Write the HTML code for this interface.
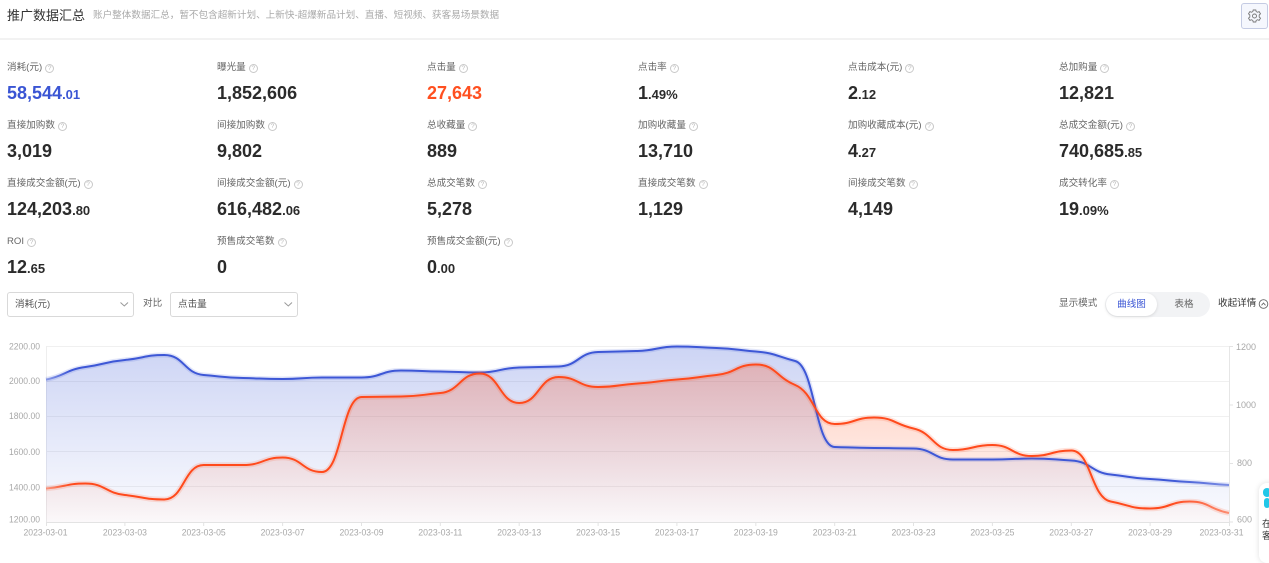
<!DOCTYPE html>
<html><head><meta charset="utf-8">
<style>
*{margin:0;padding:0;box-sizing:border-box}
html,body{width:1269px;height:547px;overflow:hidden;background:#fff;font-family:"Liberation Sans","Noto Sans CJK SC",sans-serif}
.a{position:absolute;white-space:nowrap}
.title{left:7px;top:7px;line-height:18px;font-size:13px;color:#333}
.sub{left:93px;top:7px;line-height:18px;font-size:9.6px;color:#aaa}
.hline{left:0;top:38px;width:1269px;height:2px;background:#f2f2f2}
.gear{left:1241px;top:3px;width:27px;height:26px;border:1px solid #c4cbe3;border-radius:3px;background:#f5f7fd}
.lab{font-size:9.6px;color:#666;line-height:12px;height:12px;display:flex;align-items:center}
.q{display:inline-block;width:9px;height:9px;border:1px solid #c9c9c9;border-radius:50%;font-size:6.5px;line-height:7px;text-align:center;color:#bbb;margin-left:3px}
.val{font-size:18px;font-weight:bold;color:#2b2b2b;line-height:22px}
.val small{font-size:13px;font-weight:bold}
.blue{color:#3a55d4}.org{color:#ff5020}
.sel{top:292px;height:25px;border:1px solid #d9d9d9;border-radius:3px;background:#fff;font-size:9.6px;color:#555;line-height:23px;padding-left:7px}
.ctl{font-size:9.6px;color:#666;line-height:14px;top:297px}
.tog{left:1105px;top:292px;width:105px;height:25px;border-radius:13px;background:#f2f3f5}
.tog .on{position:absolute;left:1px;top:1px;width:51px;height:23px;border-radius:12px;background:#fff;box-shadow:0 1px 3px rgba(0,0,0,.12);font-size:9.6px;color:#3a55d4;text-align:center;line-height:23px}
.tog .off{position:absolute;left:60px;top:1px;width:38px;height:23px;font-size:9.6px;color:#666;text-align:center;line-height:23px}
.card{left:1259px;top:483px;width:40px;height:80px;background:#fff;border-radius:8px;box-shadow:0 0 6px rgba(0,0,0,.13)}
</style></head>
<body>
<div class="a title">推广数据汇总</div>
<div class="a sub">账户整体数据汇总，暂不包含超新计划、上新快-超爆新品计划、直播、短视频、获客易场景数据</div>
<div class="a gear"><svg width="25" height="24" viewBox="0 0 25 24"><g transform="translate(12.5,12)" fill="none" stroke="#777" stroke-width="0.9"><path d="M-1.3,-6 L1.3,-6 L1.7,-4.4 L3.1,-3.7 L4.6,-4.4 L6,-2.2 L4.7,-1 L4.7,1 L6,2.2 L4.6,4.4 L3.1,3.7 L1.7,4.4 L1.3,6 L-1.3,6 L-1.7,4.4 L-3.1,3.7 L-4.6,4.4 L-6,2.2 L-4.7,1 L-4.7,-1 L-6,-2.2 L-4.6,-4.4 L-3.1,-3.7 L-1.7,-4.4 Z"/><circle r="2"/></g></svg></div>
<div class="a hline"></div>

<!-- row 1 -->
<div class="a lab" style="left:7px;top:62px">消耗(元)<span class="q">?</span></div>
<div class="a val blue" style="left:7px;top:82px">58,544<small>.01</small></div>
<div class="a lab" style="left:217px;top:62px">曝光量<span class="q">?</span></div>
<div class="a val" style="left:217px;top:82px">1,852,606</div>
<div class="a lab" style="left:427px;top:62px">点击量<span class="q">?</span></div>
<div class="a val org" style="left:427px;top:82px">27,643</div>
<div class="a lab" style="left:638px;top:62px">点击率<span class="q">?</span></div>
<div class="a val" style="left:638px;top:82px">1<small>.49%</small></div>
<div class="a lab" style="left:848px;top:62px">点击成本(元)<span class="q">?</span></div>
<div class="a val" style="left:848px;top:82px">2<small>.12</small></div>
<div class="a lab" style="left:1059px;top:62px">总加购量<span class="q">?</span></div>
<div class="a val" style="left:1059px;top:82px">12,821</div>

<!-- row 2 -->
<div class="a lab" style="left:7px;top:120px">直接加购数<span class="q">?</span></div>
<div class="a val" style="left:7px;top:140px">3,019</div>
<div class="a lab" style="left:217px;top:120px">间接加购数<span class="q">?</span></div>
<div class="a val" style="left:217px;top:140px">9,802</div>
<div class="a lab" style="left:427px;top:120px">总收藏量<span class="q">?</span></div>
<div class="a val" style="left:427px;top:140px">889</div>
<div class="a lab" style="left:638px;top:120px">加购收藏量<span class="q">?</span></div>
<div class="a val" style="left:638px;top:140px">13,710</div>
<div class="a lab" style="left:848px;top:120px">加购收藏成本(元)<span class="q">?</span></div>
<div class="a val" style="left:848px;top:140px">4<small>.27</small></div>
<div class="a lab" style="left:1059px;top:120px">总成交金额(元)<span class="q">?</span></div>
<div class="a val" style="left:1059px;top:140px">740,685<small>.85</small></div>

<!-- row 3 -->
<div class="a lab" style="left:7px;top:178px">直接成交金额(元)<span class="q">?</span></div>
<div class="a val" style="left:7px;top:198px">124,203<small>.80</small></div>
<div class="a lab" style="left:217px;top:178px">间接成交金额(元)<span class="q">?</span></div>
<div class="a val" style="left:217px;top:198px">616,482<small>.06</small></div>
<div class="a lab" style="left:427px;top:178px">总成交笔数<span class="q">?</span></div>
<div class="a val" style="left:427px;top:198px">5,278</div>
<div class="a lab" style="left:638px;top:178px">直接成交笔数<span class="q">?</span></div>
<div class="a val" style="left:638px;top:198px">1,129</div>
<div class="a lab" style="left:848px;top:178px">间接成交笔数<span class="q">?</span></div>
<div class="a val" style="left:848px;top:198px">4,149</div>
<div class="a lab" style="left:1059px;top:178px">成交转化率<span class="q">?</span></div>
<div class="a val" style="left:1059px;top:198px">19<small>.09%</small></div>

<!-- row 4 -->
<div class="a lab" style="left:7px;top:236px">ROI<span class="q">?</span></div>
<div class="a val" style="left:7px;top:256px">12<small>.65</small></div>
<div class="a lab" style="left:217px;top:236px">预售成交笔数<span class="q">?</span></div>
<div class="a val" style="left:217px;top:256px">0</div>
<div class="a lab" style="left:427px;top:236px">预售成交金额(元)<span class="q">?</span></div>
<div class="a val" style="left:427px;top:256px">0<small>.00</small></div>

<!-- controls -->
<div class="a sel" style="left:7px;width:127px">消耗(元)</div>
<div class="a ctl" style="left:143px">对比</div>
<div class="a sel" style="left:170px;width:128px">点击量</div>
<div class="a ctl" style="left:1059px">显示模式</div>
<div class="a tog"><div class="on">曲线图</div><div class="off">表格</div></div>
<div class="a ctl" style="left:1218px;color:#333">收起详情</div>

<svg class="a" style="left:0;top:0" width="1269" height="547" viewBox="0 0 1269 547">
<defs>
<linearGradient id="gb" x1="0" y1="346" x2="0" y2="522" gradientUnits="userSpaceOnUse"><stop offset="0" stop-color="#3d5ad6" stop-opacity="0.26"/><stop offset="1" stop-color="#3d5ad6" stop-opacity="0.02"/></linearGradient>
<linearGradient id="gr" x1="0" y1="364" x2="0" y2="522" gradientUnits="userSpaceOnUse"><stop offset="0" stop-color="#ff5a2a" stop-opacity="0.3"/><stop offset="1" stop-color="#ff5a2a" stop-opacity="0.02"/></linearGradient>
<linearGradient id="sb" x1="46" y1="0" x2="1229" y2="0" gradientUnits="userSpaceOnUse"><stop offset="0" stop-color="#3d57d6" stop-opacity="0.45"/><stop offset="0.02" stop-color="#3d57d6" stop-opacity="1"/><stop offset="0.95" stop-color="#3d57d6" stop-opacity="1"/><stop offset="1" stop-color="#3d57d6" stop-opacity="0.6"/></linearGradient>
<linearGradient id="sr" x1="46" y1="0" x2="1229" y2="0" gradientUnits="userSpaceOnUse"><stop offset="0" stop-color="#ff4a1c" stop-opacity="0.45"/><stop offset="0.02" stop-color="#ff4a1c" stop-opacity="1"/><stop offset="0.95" stop-color="#ff4a1c" stop-opacity="1"/><stop offset="1" stop-color="#ff4a1c" stop-opacity="0.55"/></linearGradient>
</defs>
<!-- control chevrons -->
<polyline points="120.5,302.5 124.3,306 128,302.5" fill="none" stroke="#999" stroke-width="1"/>
<polyline points="284.5,302.5 288.3,306 292,302.5" fill="none" stroke="#999" stroke-width="1"/>
<circle cx="1263.5" cy="304" r="4.3" fill="none" stroke="#666" stroke-width="0.9"/>
<polyline points="1261.5,305.3 1263.5,303 1265.5,305.3" fill="none" stroke="#666" stroke-width="0.9"/>

<!-- grid -->
<g stroke="#f0f0f0" stroke-width="1">
<line x1="46" y1="346.5" x2="1229" y2="346.5"/>
<line x1="46" y1="381.5" x2="1229" y2="381.5"/>
<line x1="46" y1="416.5" x2="1229" y2="416.5"/>
<line x1="46" y1="451.5" x2="1229" y2="451.5"/>
<line x1="46" y1="486.5" x2="1229" y2="486.5"/>
</g>
<line x1="46.5" y1="346" x2="46.5" y2="522" stroke="#eee"/>
<line x1="1229.5" y1="346" x2="1229.5" y2="522" stroke="#e6e6e6"/>

<!-- areas -->
<path fill="url(#gb)" d="M46,379.5 C65.7,375.7 65.7,369.7 85.4,367 C105.1,364.3 105.2,361.8 124.9,360 C144.6,358.2 144.6,355 164.3,355 C184.0,355 184.0,373.4 203.7,375 C223.4,376.6 223.5,377.5 243.2,378 C262.9,378.5 262.9,379 282.6,379 C302.3,379 302.3,377.5 322.0,377.5 C341.7,377.5 341.8,377.5 361.5,377.5 C381.2,377.5 381.2,370.5 400.9,370.5 C420.6,370.5 420.6,371.2 440.3,371.5 C460.0,371.8 460.1,372.5 479.8,372.5 C499.5,372.5 499.5,368 519.2,367.5 C538.9,367 538.9,367.1 558.6,366.5 C578.3,365.9 578.4,352.6 598.1,352 C617.8,351.4 617.8,351.5 637.5,351 C657.2,350.5 657.2,346.5 676.9,346.5 C696.6,346.5 696.7,347.4 716.4,348 C736.1,348.6 736.1,349.9 755.8,351.5 C775.5,353.1 775.5,355.8 795.2,361 C814.9,366.2 815.0,446.4 834.7,447 C854.4,447.6 854.4,447.8 874.1,448 C893.8,448.2 893.8,448.2 913.5,448.5 C933.2,448.8 933.3,459.5 953.0,459.5 C972.7,459.5 972.7,459.5 992.4,459.5 C1012.1,459.5 1012.1,458.5 1031.8,458.5 C1051.5,458.5 1051.6,459.4 1071.3,460.5 C1091.0,461.6 1091.0,472.4 1110.7,474.5 C1130.4,476.6 1130.4,477.9 1150.1,479 C1169.8,480.1 1169.9,481.1 1189.6,482 C1209.3,482.9 1209.3,484.1 1229,485 L1229,522 L46,522 Z"/>
<path fill="url(#gr)" d="M46,488.5 C65.7,487 65.7,483.5 85.4,483.5 C105.1,483.5 105.2,493 124.9,495 C144.6,497 144.6,499.5 164.3,499.5 C184.0,499.5 184.0,465 203.7,465 C223.4,465 223.5,465 243.2,465 C262.9,465 262.9,457.5 282.6,457.5 C302.3,457.5 302.3,472 322.0,472 C341.7,472 341.8,397.3 361.5,397 C381.2,396.7 381.2,396.8 400.9,396.5 C420.6,396.2 420.6,394.8 440.3,393 C460.0,391.2 460.1,373.5 479.8,373.5 C499.5,373.5 499.5,403 519.2,403 C538.9,403 538.9,377 558.6,377 C578.3,377 578.4,387 598.1,387 C617.8,387 617.8,384.6 637.5,383.5 C657.2,382.4 657.2,380.8 676.9,379.5 C696.6,378.2 696.7,376.9 716.4,375 C736.1,373.1 736.1,364.5 755.8,364.5 C775.5,364.5 775.5,376.8 795.2,385 C814.9,393.2 815.0,424 834.7,424 C854.4,424 854.4,417.5 874.1,417.5 C893.8,417.5 893.8,424.1 913.5,428.5 C933.2,432.9 933.3,450 953.0,450 C972.7,450 972.7,445 992.4,445 C1012.1,445 1012.1,456 1031.8,456 C1051.5,456 1051.6,450.5 1071.3,450.5 C1091.0,450.5 1091.0,497.8 1110.7,501.5 C1130.4,505.2 1130.4,508.5 1150.1,508.5 C1169.8,508.5 1169.9,501.5 1189.6,501.5 C1209.3,501.5 1209.3,509.5 1229,513 L1229,522 L46,522 Z"/>

<!-- axis bottom -->
<line x1="46" y1="522.5" x2="1229" y2="522.5" stroke="#e3e3e3"/>
<g stroke="#e3e3e3">
<line x1="46.5" y1="522" x2="46.5" y2="526"/><line x1="124.9" y1="522" x2="124.9" y2="526"/><line x1="203.7" y1="522" x2="203.7" y2="526"/><line x1="282.6" y1="522" x2="282.6" y2="526"/><line x1="361.5" y1="522" x2="361.5" y2="526"/><line x1="440.3" y1="522" x2="440.3" y2="526"/><line x1="519.2" y1="522" x2="519.2" y2="526"/><line x1="598.1" y1="522" x2="598.1" y2="526"/><line x1="676.9" y1="522" x2="676.9" y2="526"/><line x1="755.8" y1="522" x2="755.8" y2="526"/><line x1="834.7" y1="522" x2="834.7" y2="526"/><line x1="913.5" y1="522" x2="913.5" y2="526"/><line x1="992.4" y1="522" x2="992.4" y2="526"/><line x1="1071.3" y1="522" x2="1071.3" y2="526"/><line x1="1150.1" y1="522" x2="1150.1" y2="526"/><line x1="1229.5" y1="522" x2="1229.5" y2="526"/>
<line x1="1229" y1="346.5" x2="1233" y2="346.5"/><line x1="1229" y1="405" x2="1233" y2="405"/><line x1="1229" y1="463.5" x2="1233" y2="463.5"/><line x1="1229" y1="522" x2="1233" y2="522"/>
</g>

<!-- lines -->
<path fill="none" stroke="#3d57d6" stroke-opacity="0.15" stroke-width="5" d="M46,379.5 C65.7,375.7 65.7,369.7 85.4,367 C105.1,364.3 105.2,361.8 124.9,360 C144.6,358.2 144.6,355 164.3,355 C184.0,355 184.0,373.4 203.7,375 C223.4,376.6 223.5,377.5 243.2,378 C262.9,378.5 262.9,379 282.6,379 C302.3,379 302.3,377.5 322.0,377.5 C341.7,377.5 341.8,377.5 361.5,377.5 C381.2,377.5 381.2,370.5 400.9,370.5 C420.6,370.5 420.6,371.2 440.3,371.5 C460.0,371.8 460.1,372.5 479.8,372.5 C499.5,372.5 499.5,368 519.2,367.5 C538.9,367 538.9,367.1 558.6,366.5 C578.3,365.9 578.4,352.6 598.1,352 C617.8,351.4 617.8,351.5 637.5,351 C657.2,350.5 657.2,346.5 676.9,346.5 C696.6,346.5 696.7,347.4 716.4,348 C736.1,348.6 736.1,349.9 755.8,351.5 C775.5,353.1 775.5,355.8 795.2,361 C814.9,366.2 815.0,446.4 834.7,447 C854.4,447.6 854.4,447.8 874.1,448 C893.8,448.2 893.8,448.2 913.5,448.5 C933.2,448.8 933.3,459.5 953.0,459.5 C972.7,459.5 972.7,459.5 992.4,459.5 C1012.1,459.5 1012.1,458.5 1031.8,458.5 C1051.5,458.5 1051.6,459.4 1071.3,460.5 C1091.0,461.6 1091.0,472.4 1110.7,474.5 C1130.4,476.6 1130.4,477.9 1150.1,479 C1169.8,480.1 1169.9,481.1 1189.6,482 C1209.3,482.9 1209.3,484.1 1229,485"/>
<path fill="none" stroke="url(#sb)" stroke-width="2" d="M46,379.5 C65.7,375.7 65.7,369.7 85.4,367 C105.1,364.3 105.2,361.8 124.9,360 C144.6,358.2 144.6,355 164.3,355 C184.0,355 184.0,373.4 203.7,375 C223.4,376.6 223.5,377.5 243.2,378 C262.9,378.5 262.9,379 282.6,379 C302.3,379 302.3,377.5 322.0,377.5 C341.7,377.5 341.8,377.5 361.5,377.5 C381.2,377.5 381.2,370.5 400.9,370.5 C420.6,370.5 420.6,371.2 440.3,371.5 C460.0,371.8 460.1,372.5 479.8,372.5 C499.5,372.5 499.5,368 519.2,367.5 C538.9,367 538.9,367.1 558.6,366.5 C578.3,365.9 578.4,352.6 598.1,352 C617.8,351.4 617.8,351.5 637.5,351 C657.2,350.5 657.2,346.5 676.9,346.5 C696.6,346.5 696.7,347.4 716.4,348 C736.1,348.6 736.1,349.9 755.8,351.5 C775.5,353.1 775.5,355.8 795.2,361 C814.9,366.2 815.0,446.4 834.7,447 C854.4,447.6 854.4,447.8 874.1,448 C893.8,448.2 893.8,448.2 913.5,448.5 C933.2,448.8 933.3,459.5 953.0,459.5 C972.7,459.5 972.7,459.5 992.4,459.5 C1012.1,459.5 1012.1,458.5 1031.8,458.5 C1051.5,458.5 1051.6,459.4 1071.3,460.5 C1091.0,461.6 1091.0,472.4 1110.7,474.5 C1130.4,476.6 1130.4,477.9 1150.1,479 C1169.8,480.1 1169.9,481.1 1189.6,482 C1209.3,482.9 1209.3,484.1 1229,485"/>
<path fill="none" stroke="#ff4a1c" stroke-opacity="0.15" stroke-width="5.5" d="M46,488.5 C65.7,487 65.7,483.5 85.4,483.5 C105.1,483.5 105.2,493 124.9,495 C144.6,497 144.6,499.5 164.3,499.5 C184.0,499.5 184.0,465 203.7,465 C223.4,465 223.5,465 243.2,465 C262.9,465 262.9,457.5 282.6,457.5 C302.3,457.5 302.3,472 322.0,472 C341.7,472 341.8,397.3 361.5,397 C381.2,396.7 381.2,396.8 400.9,396.5 C420.6,396.2 420.6,394.8 440.3,393 C460.0,391.2 460.1,373.5 479.8,373.5 C499.5,373.5 499.5,403 519.2,403 C538.9,403 538.9,377 558.6,377 C578.3,377 578.4,387 598.1,387 C617.8,387 617.8,384.6 637.5,383.5 C657.2,382.4 657.2,380.8 676.9,379.5 C696.6,378.2 696.7,376.9 716.4,375 C736.1,373.1 736.1,364.5 755.8,364.5 C775.5,364.5 775.5,376.8 795.2,385 C814.9,393.2 815.0,424 834.7,424 C854.4,424 854.4,417.5 874.1,417.5 C893.8,417.5 893.8,424.1 913.5,428.5 C933.2,432.9 933.3,450 953.0,450 C972.7,450 972.7,445 992.4,445 C1012.1,445 1012.1,456 1031.8,456 C1051.5,456 1051.6,450.5 1071.3,450.5 C1091.0,450.5 1091.0,497.8 1110.7,501.5 C1130.4,505.2 1130.4,508.5 1150.1,508.5 C1169.8,508.5 1169.9,501.5 1189.6,501.5 C1209.3,501.5 1209.3,509.5 1229,513"/>
<path fill="none" stroke="url(#sr)" stroke-width="2" d="M46,488.5 C65.7,487 65.7,483.5 85.4,483.5 C105.1,483.5 105.2,493 124.9,495 C144.6,497 144.6,499.5 164.3,499.5 C184.0,499.5 184.0,465 203.7,465 C223.4,465 223.5,465 243.2,465 C262.9,465 262.9,457.5 282.6,457.5 C302.3,457.5 302.3,472 322.0,472 C341.7,472 341.8,397.3 361.5,397 C381.2,396.7 381.2,396.8 400.9,396.5 C420.6,396.2 420.6,394.8 440.3,393 C460.0,391.2 460.1,373.5 479.8,373.5 C499.5,373.5 499.5,403 519.2,403 C538.9,403 538.9,377 558.6,377 C578.3,377 578.4,387 598.1,387 C617.8,387 617.8,384.6 637.5,383.5 C657.2,382.4 657.2,380.8 676.9,379.5 C696.6,378.2 696.7,376.9 716.4,375 C736.1,373.1 736.1,364.5 755.8,364.5 C775.5,364.5 775.5,376.8 795.2,385 C814.9,393.2 815.0,424 834.7,424 C854.4,424 854.4,417.5 874.1,417.5 C893.8,417.5 893.8,424.1 913.5,428.5 C933.2,432.9 933.3,450 953.0,450 C972.7,450 972.7,445 992.4,445 C1012.1,445 1012.1,456 1031.8,456 C1051.5,456 1051.6,450.5 1071.3,450.5 C1091.0,450.5 1091.0,497.8 1110.7,501.5 C1130.4,505.2 1130.4,508.5 1150.1,508.5 C1169.8,508.5 1169.9,501.5 1189.6,501.5 C1209.3,501.5 1209.3,509.5 1229,513"/>

<!-- axis labels -->
<g font-family="Liberation Sans, sans-serif" font-size="9" fill="#a8a8a8" dominant-baseline="central">
<g text-anchor="end">
<text x="40" y="346.7" textLength="31" lengthAdjust="spacingAndGlyphs">2200.00</text>
<text x="40" y="381" textLength="31" lengthAdjust="spacingAndGlyphs">2000.00</text>
<text x="40" y="416" textLength="31" lengthAdjust="spacingAndGlyphs">1800.00</text>
<text x="40" y="451.8" textLength="31" lengthAdjust="spacingAndGlyphs">1600.00</text>
<text x="40" y="487.3" textLength="31" lengthAdjust="spacingAndGlyphs">1400.00</text>
<text x="40" y="519.5" textLength="31" lengthAdjust="spacingAndGlyphs">1200.00</text>
</g>
<text x="1236" y="347">1200</text>
<text x="1236" y="405">1000</text>
<text x="1237" y="463">800</text>
<text x="1237" y="519.5">600</text>
<g text-anchor="middle">
<text x="45.5" y="532.5" textLength="44" lengthAdjust="spacingAndGlyphs">2023-03-01</text>
<text x="124.9" y="532.5" textLength="44" lengthAdjust="spacingAndGlyphs">2023-03-03</text>
<text x="203.7" y="532.5" textLength="44" lengthAdjust="spacingAndGlyphs">2023-03-05</text>
<text x="282.6" y="532.5" textLength="44" lengthAdjust="spacingAndGlyphs">2023-03-07</text>
<text x="361.5" y="532.5" textLength="44" lengthAdjust="spacingAndGlyphs">2023-03-09</text>
<text x="440.3" y="532.5" textLength="44" lengthAdjust="spacingAndGlyphs">2023-03-11</text>
<text x="519.2" y="532.5" textLength="44" lengthAdjust="spacingAndGlyphs">2023-03-13</text>
<text x="598.1" y="532.5" textLength="44" lengthAdjust="spacingAndGlyphs">2023-03-15</text>
<text x="676.9" y="532.5" textLength="44" lengthAdjust="spacingAndGlyphs">2023-03-17</text>
<text x="755.8" y="532.5" textLength="44" lengthAdjust="spacingAndGlyphs">2023-03-19</text>
<text x="834.7" y="532.5" textLength="44" lengthAdjust="spacingAndGlyphs">2023-03-21</text>
<text x="913.5" y="532.5" textLength="44" lengthAdjust="spacingAndGlyphs">2023-03-23</text>
<text x="992.4" y="532.5" textLength="44" lengthAdjust="spacingAndGlyphs">2023-03-25</text>
<text x="1071.3" y="532.5" textLength="44" lengthAdjust="spacingAndGlyphs">2023-03-27</text>
<text x="1150.1" y="532.5" textLength="44" lengthAdjust="spacingAndGlyphs">2023-03-29</text>
<text x="1221.5" y="532.5" textLength="44" lengthAdjust="spacingAndGlyphs">2023-03-31</text>
</g>
</g>
</svg>

<div class="a card">
  <div style="position:absolute;left:4px;top:5px;width:8px;height:9px;border-radius:4px;background:#22c7e8"></div>
  <div style="position:absolute;left:5px;top:15px;width:6px;height:10px;border-radius:3px;background:#22c7e8"></div>
  <div style="position:absolute;left:3px;top:36px;font-size:9.6px;line-height:12px;color:#333">在<br>客</div>
</div>
</body></html>
